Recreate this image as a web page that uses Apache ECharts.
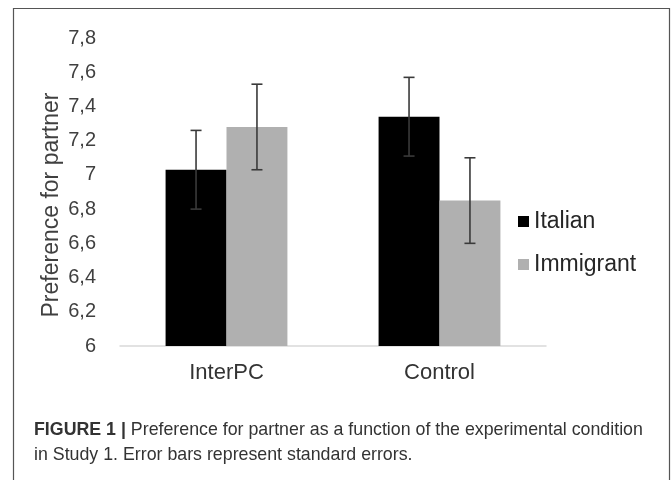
<!DOCTYPE html>
<html>
<head>
<meta charset="utf-8">
<script src="https://cdn.jsdelivr.net/npm/echarts@6/dist/echarts.min.js"></script>
<style>
html,body{margin:0;padding:0;background:#fff;}
#chart{width:672px;height:480px;}
</style>
</head>
<body>
<div id="chart"></div>
<script>
const categories = ['InterPC', 'Control'];
const seriesNames = ['Italian', 'Immigrant'];
const italianMeans = [7.03, 7.34];
const immigrantMeans = [7.28, 6.85];
const italianSE = [0.23, 0.23];
const immigrantSE = [0.25, 0.25];
const yTickValues = [6, 6.2, 6.4, 6.6, 6.8, 7, 7.2, 7.4, 7.6, 7.8];
const yTickLabels = ['6', '6,2', '6,4', '6,6', '6,8', '7', '7,2', '7,4', '7,6', '7,8'];
const yAxisTitle = 'Preference for partner';
const captionBold = 'FIGURE 1 |';
const captionLine1 = ' Preference for partner as a function of the experimental condition';
const captionLine2 = 'in Study 1. Error bars represent standard errors.';

const BAR_FRAC = 0.286;
const means = [italianMeans, immigrantMeans];
const ses = [italianSE, immigrantSE];

const errData = [];
for (let s = 0; s < 2; s++) {
  for (let c = 0; c < categories.length; c++) {
    errData.push([c, means[s][c] - ses[s][c], means[s][c] + ses[s][c], s]);
  }
}

const chart = echarts.init(document.getElementById('chart'));
chart.setOption({
  animation: false,
  backgroundColor: '#ffffff',
  textStyle: { fontFamily: 'Liberation Sans, Arial, sans-serif' },
  graphic: [{
    type: 'rect',
    shape: { x: 13.5, y: 8.5, width: 656, height: 520 },
    style: { fill: 'none', stroke: '#555', lineWidth: 1.2 },
    silent: true
  }, {
    type: 'text',
    x: 52, y: 205,
    rotation: Math.PI / 2,
    style: {
      text: yAxisTitle,
      fontSize: 23, fill: '#404040', fontFamily: 'Liberation Sans',
      align: 'center', verticalAlign: 'middle'
    },
    silent: true
  }],
  title: {
    left: 29, top: 413,
    text: '{b|' + captionBold + '}{n|' + captionLine1 + '}\n{n|' + captionLine2 + '}',
    textStyle: {
      rich: {
        b: { fontWeight: 'bold', fontSize: 17.8, color: '#333', fontFamily: 'Liberation Sans', lineHeight: 25 },
        n: { fontWeight: 'normal', fontSize: 17.8, color: '#333', fontFamily: 'Liberation Sans', lineHeight: 25 }
      }
    }
  },
  legend: {
    orient: 'vertical',
    left: 513, top: 205,
    itemWidth: 11, itemHeight: 11, itemGap: 20,
    icon: 'rect',
    data: seriesNames,
    textStyle: { fontSize: 23, color: '#262626', fontFamily: 'Liberation Sans', padding: [0, 0, 0, 0] }
  },
  grid: { left: 120, right: 126, top: 38, bottom: 134, containLabel: false },
  xAxis: {
    type: 'category',
    data: categories,
    axisTick: { show: false },
    axisLine: { lineStyle: { color: '#d9d9d9', width: 1.5 } },
    axisLabel: { fontSize: 22, color: '#333', margin: 16, fontFamily: 'Liberation Sans' }
  },
  yAxis: {
    type: 'value',
    min: 6, max: 7.8, interval: 0.2,
    axisLine: { show: false },
    axisTick: { show: false },
    splitLine: { show: false },
    axisLabel: {
      fontSize: 20, color: '#404040', margin: 24, fontFamily: 'Liberation Sans',
      formatter: function (v) {
        for (let i = 0; i < yTickValues.length; i++) {
          if (Math.abs(yTickValues[i] - v) < 1e-6) return yTickLabels[i];
        }
        return '';
      }
    }
  },
  series: [
    {
      name: seriesNames[0], type: 'bar', data: italianMeans,
      barWidth: (BAR_FRAC * 100) + '%', barGap: '0%',
      itemStyle: { color: '#000000' }
    },
    {
      name: seriesNames[1], type: 'bar', data: immigrantMeans,
      barWidth: (BAR_FRAC * 100) + '%', barGap: '0%',
      itemStyle: { color: '#b0b0b0' }
    },
    {
      type: 'custom',
      data: errData,
      encode: { x: 0, y: [1, 2] },
      z: 10,
      renderItem: function (params, api) {
        const c = api.value(0);
        const lo = api.value(1);
        const hi = api.value(2);
        const s = api.value(3);
        const band = api.size([1, 0])[0];
        const bw = band * BAR_FRAC;
        const off = (s === 0 ? -0.5 : 0.5) * bw;
        const pLo = api.coord([c, lo]);
        const pHi = api.coord([c, hi]);
        const x = pLo[0] + off;
        const cap = 5.5;
        const st = { stroke: '#3a3a3a', lineWidth: 1.6 };
        return {
          type: 'group',
          children: [
            { type: 'line', shape: { x1: x, y1: pLo[1], x2: x, y2: pHi[1] }, style: st },
            { type: 'line', shape: { x1: x - cap, y1: pLo[1], x2: x + cap, y2: pLo[1] }, style: st },
            { type: 'line', shape: { x1: x - cap, y1: pHi[1], x2: x + cap, y2: pHi[1] }, style: st }
          ]
        };
      }
    }
  ]
});
</script>
</body>
</html>
